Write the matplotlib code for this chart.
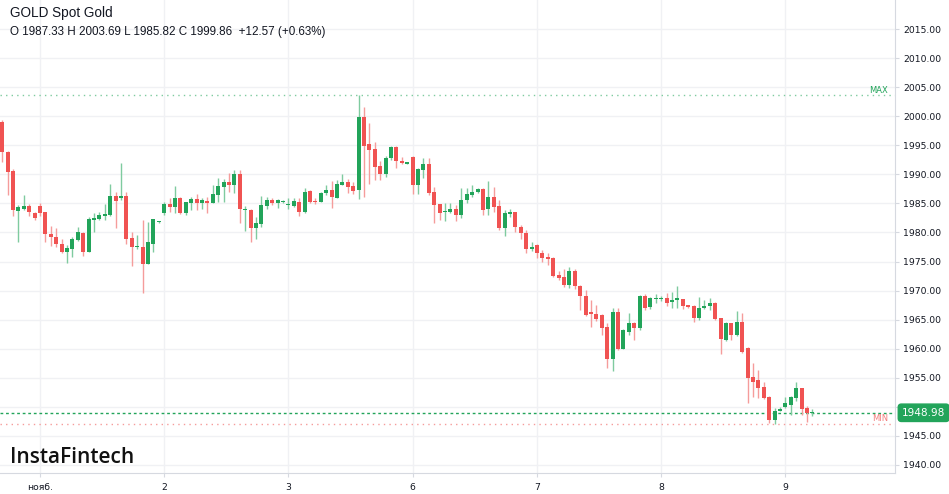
import matplotlib.pyplot as plt
import numpy as np

# hourly candles, GOLD spot
opens = [1999.05, 1993.9, 1990.6, 1983.7, 1984.05, 1984.55, 1983.4, 1984.55, 1983.5, 1979.75,
         1979.3, 1978.0, 1976.7, 1977.2, 1978.7, 1979.85, 1976.7, 1982.15, 1982.25, 1982.8,
         1983.0, 1986.35, 1985.9, 1986.35, 1979.0, 1977.45, 1977.55, 1974.5, 1978.1, 1981.75,
         1983.3, 1984.85, 1984.35, 1986.0, 1983.4, 1985.1, 1985.75, 1985.1, 1985.45, 1985.1,
         1986.45, 1987.9, 1988.65, 1988.2, 1990.05, 1983.9, 1983.9, 1980.7, 1981.45, 1984.6,
         1985.6, 1985.1, 1985.25, 1984.65, 1984.6, 1985.3, 1983.5, 1987.15, 1985.45, 1985.3,
         1986.75, 1987.3, 1986.0, 1988.2, 1988.75, 1988.0, 1987.33, 1999.86, 1995.2, 1994.3,
         1991.4, 1990.0, 1992.75, 1994.75, 1992.3, 1991.85, 1993.05, 1988.2, 1990.75, 1991.8,
         1986.9, 1984.85, 1983.5, 1983.6, 1984.05, 1983.0, 1985.6, 1986.45, 1986.9, 1987.5,
         1984.05, 1986.05, 1984.55, 1980.7, 1983.2, 1983.5, 1980.9, 1979.95, 1977.15, 1977.85,
         1976.4, 1975.85, 1975.55, 1972.7, 1972.4, 1970.95, 1973.4, 1970.8, 1969.0, 1966.4,
         1966.0, 1965.8, 1963.8, 1958.2, 1966.3, 1960.0, 1962.9, 1964.5, 1963.6, 1969.1,
         1967.1, 1968.5, 1968.55, 1968.7, 1968.1, 1968.45, 1968.5, 1967.5, 1967.35, 1965.2,
         1966.95, 1967.35, 1967.9, 1965.2, 1961.5, 1964.35, 1962.35, 1964.65, 1960.1, 1955.2,
         1954.6, 1953.35, 1951.65, 1947.75, 1949.35, 1949.9, 1950.4, 1951.5, 1953.2, 1949.75,
         1948.9]
highs = [1999.3, 1994.0, 1990.9, 1984.7, 1986.45, 1984.85, 1983.6, 1985.0, 1983.6, 1981.1,
         1980.7, 1978.8, 1977.85, 1979.3, 1980.9, 1980.1, 1982.6, 1983.4, 1983.6, 1984.85,
         1988.35, 1987.0, 1991.9, 1987.0, 1980.1, 1979.6, 1982.15, 1981.85, 1982.4, 1981.9,
         1985.3, 1985.9, 1988.0, 1986.15, 1985.3, 1986.15, 1986.6, 1985.9, 1986.15, 1988.2,
         1989.3, 1989.15, 1990.2, 1990.75, 1990.75, 1984.55, 1984.0, 1982.7, 1986.35, 1986.15,
         1986.0, 1985.7, 1985.5, 1985.9, 1985.9, 1985.9, 1987.6, 1987.3, 1985.9, 1987.0,
         1988.2, 1988.85, 1989.0, 1990.0, 1989.2, 1988.75, 2003.69, 2001.5, 1998.8, 1995.5,
         1992.3, 1993.2, 1994.9, 1994.8, 1992.9, 1991.95, 1993.15, 1991.15, 1992.75, 1992.75,
         1987.9, 1984.9, 1985.0, 1985.0, 1984.7, 1987.6, 1987.6, 1988.2, 1987.6, 1987.6,
         1988.85, 1987.9, 1985.6, 1983.9, 1984.0, 1983.6, 1981.3, 1980.4, 1978.4, 1978.1,
         1976.9, 1976.4, 1975.85, 1973.3, 1973.8, 1974.1, 1973.7, 1971.0, 1970.1, 1968.4,
         1967.6, 1966.0, 1964.4, 1967.0, 1967.0, 1963.4, 1966.2, 1964.6, 1969.3, 1969.4,
         1968.9, 1969.4, 1969.0, 1969.6, 1969.7, 1970.8, 1968.6, 1967.6, 1967.5, 1968.85,
         1968.3, 1968.7, 1968.0, 1965.3, 1964.65, 1964.5, 1966.5, 1966.2, 1960.35, 1957.6,
         1956.35, 1954.3, 1951.8, 1949.75, 1950.0, 1951.65, 1951.8, 1954.3, 1953.3, 1950.15,
         1949.6]
lows = [1992.2, 1986.45, 1982.8, 1978.4, 1983.9, 1982.8, 1982.2, 1982.8, 1978.4, 1977.7,
        1977.55, 1976.5, 1974.8, 1975.8, 1978.6, 1976.0, 1976.7, 1980.1, 1982.15, 1982.15,
        1982.8, 1980.7, 1985.6, 1978.0, 1974.25, 1977.1, 1969.5, 1974.5, 1976.7, 1981.7,
        1983.0, 1983.6, 1983.4, 1983.1, 1983.0, 1983.9, 1983.9, 1984.0, 1983.4, 1985.1,
        1985.3, 1985.3, 1987.0, 1986.75, 1981.7, 1980.3, 1978.4, 1978.8, 1981.0, 1984.0,
        1984.7, 1984.15, 1985.1, 1984.0, 1984.45, 1982.9, 1983.4, 1985.0, 1984.85, 1985.2,
        1986.45, 1984.25, 1985.9, 1988.1, 1986.75, 1986.6, 1985.82, 1986.15, 1988.3, 1989.0,
        1989.0, 1989.6, 1992.45, 1991.15, 1991.7, 1991.8, 1986.6, 1986.6, 1989.3, 1986.45,
        1981.7, 1982.15, 1981.95, 1983.4, 1981.95, 1982.45, 1985.0, 1986.15, 1986.8, 1983.0,
        1983.0, 1983.6, 1980.5, 1979.4, 1982.6, 1980.1, 1978.8, 1976.5, 1976.8, 1975.55,
        1974.97, 1974.4, 1972.4, 1971.9, 1970.7, 1970.4, 1970.3, 1966.7, 1965.6, 1963.8,
        1964.8, 1962.4, 1956.6, 1956.2, 1959.8, 1959.9, 1962.4, 1961.5, 1963.3, 1966.7,
        1966.9, 1967.9, 1968.2, 1967.35, 1967.0, 1967.0, 1966.9, 1967.0, 1964.65, 1964.9,
        1966.8, 1966.66, 1964.9, 1959.1, 1961.3, 1961.5, 1962.2, 1959.3, 1950.6, 1951.75,
        1951.5, 1951.4, 1947.17, 1947.0, 1949.2, 1949.75, 1948.6, 1951.05, 1948.6, 1947.45,
        1948.5]
closes = [1993.9, 1990.35, 1983.9, 1984.3, 1984.5, 1983.6, 1982.45, 1983.4, 1979.7, 1979.2,
          1978.0, 1976.7, 1977.4, 1978.8, 1980.0, 1976.7, 1982.25, 1982.45, 1983.0, 1983.2,
          1986.35, 1985.4, 1986.2, 1978.9, 1977.55, 1977.7, 1974.5, 1978.3, 1982.25, 1981.85,
          1984.85, 1984.35, 1986.0, 1983.3, 1985.2, 1985.75, 1985.0, 1985.6, 1985.1, 1986.55,
          1988.0, 1988.65, 1988.25, 1990.05, 1984.0, 1984.1, 1980.7, 1981.6, 1984.7, 1985.6,
          1985.1, 1985.6, 1985.35, 1984.85, 1985.4, 1983.5, 1987.0, 1985.3, 1985.2, 1986.85,
          1987.3, 1986.15, 1988.3, 1988.75, 1987.9, 1987.2, 1999.86, 1994.85, 1994.2, 1991.3,
          1990.0, 1992.75, 1994.75, 1992.3, 1991.9, 1991.9, 1988.2, 1990.9, 1991.8, 1986.75,
          1984.7, 1983.4, 1983.7, 1984.05, 1983.0, 1985.6, 1986.55, 1987.0, 1987.5, 1983.9,
          1986.05, 1984.45, 1980.7, 1983.3, 1983.5, 1980.9, 1979.95, 1977.1, 1977.55, 1976.4,
          1975.55, 1975.4, 1972.5, 1972.25, 1970.95, 1973.4, 1970.8, 1969.0, 1965.8, 1966.0,
          1965.1, 1963.5, 1958.2, 1966.4, 1960.0, 1963.2, 1964.4, 1963.5, 1969.1, 1967.0,
          1968.7, 1968.7, 1968.65, 1967.8, 1968.4, 1968.55, 1967.35, 1967.2, 1965.2, 1966.95,
          1967.4, 1967.9, 1965.05, 1961.6, 1964.35, 1962.35, 1964.55, 1959.5, 1954.9, 1954.3,
          1953.2, 1951.6, 1947.75, 1949.35, 1949.7, 1950.6, 1951.65, 1953.2, 1949.6, 1948.9,
          1948.98]

day_labels = ["нояб.", "2", "3", "6", "7", "8", "9"]
day_start = [7, 30, 53, 76, 99, 122, 145]
price_ticks = np.arange(1940, 2016, 5)

title = "GOLD Spot Gold"
ohlc_line = "O 1987.33 H 2003.69 L 1985.82 C 1999.86  +12.57 (+0.63%)"
max_price = 2003.69
min_price = 1947.0
last_price = 1948.98

green = "#22a45a"
red = "#f05352"
green_wick = "#7fcb9f"
red_wick = "#f59c9b"

o = np.array(opens)
h = np.array(highs)
l = np.array(lows)
c = np.array(closes)
x = np.arange(len(o))
up = c >= o

fig = plt.figure(figsize=(9.49, 4.94), dpi=100)
ax = fig.add_axes([0, 21 / 494, 895 / 949, 473 / 494])

ax.set_xlim(-0.41, 165.3)
ax.set_ylim(1938.62, 2019.99)

# grid
for p in price_ticks:
    ax.axhline(p, color="#f0f1f4", lw=1, zorder=0)
for d in day_start:
    ax.axvline(d, color="#f0f1f4", lw=1, zorder=0)

# wicks
ax.vlines(x[up], l[up], h[up], color=green_wick, lw=1, zorder=2)
ax.vlines(x[~up], l[~up], h[~up], color=red_wick, lw=1, zorder=2)

# bodies
body = np.maximum(np.abs(c - o), 0.2)
bottom = np.minimum(o, c)
ax.bar(x[up], body[up], bottom=bottom[up], width=0.74, color=green, zorder=3, linewidth=0)
ax.bar(x[~up], body[~up], bottom=bottom[~up], width=0.74, color=red, zorder=3, linewidth=0)

# max / min / last lines
ax.axhline(max_price, color="#7fcb9f", lw=1, ls=(0, (1, 3)), zorder=1)
ax.axhline(min_price, color="#f59c9b", lw=1, ls=(0, (1, 3)), zorder=1)
ax.axhline(last_price, color=green, lw=1, ls=(0, (2, 2)), zorder=1)
ax.text(164.0, 2004.5, "MAX", color=green, fontsize=6, ha="right", va="center")
ax.text(164.0, 1948.0, "MIN", color="#f27d7c", fontsize=6, ha="right", va="center")

# axes (the 1950 label sits under the last price box)
ax.yaxis.tick_right()
ax.set_yticks(price_ticks)
ax.set_yticklabels(["" if p == 1950 else "%.2f" % p for p in price_ticks])
ax.set_xticks(day_start)
ax.set_xticklabels(day_labels)
ax.tick_params(axis="y", length=3, color="#d6d9e0", labelsize=6.7, labelcolor="#131722", pad=3)
ax.tick_params(axis="x", length=3, color="#d6d9e0", labelsize=6.7, labelcolor="#131722", pad=4)
for s in ["top", "left"]:
    ax.spines[s].set_visible(False)
for s in ["right", "bottom"]:
    ax.spines[s].set_color("#d6d9e0")

# last price label
ax.annotate("%.2f" % last_price, xy=(1.0, last_price), xycoords=("axes fraction", "data"),
            xytext=(5, 0), textcoords="offset points", ha="left", va="center",
            fontsize=7.6, color="white",
            bbox=dict(boxstyle="round,pad=0.35,rounding_size=0.3", fc=green, ec=green))

# header
fig.text(10 / 949, 1 - 13 / 494, title, fontsize=9.8, family="Liberation Sans",
         color="#131722", va="center")
fig.text(10 / 949, 1 - 32 / 494, ohlc_line, fontsize=8.4, family="Liberation Sans",
         color="#131722", va="center")

# logo
fig.text(10 / 949, 1 - 457 / 494, "InstaFintech", fontsize=15, family="Open Sans",
         weight="semibold", color="#111111", va="center")

fig.savefig("out.png", dpi=100)
